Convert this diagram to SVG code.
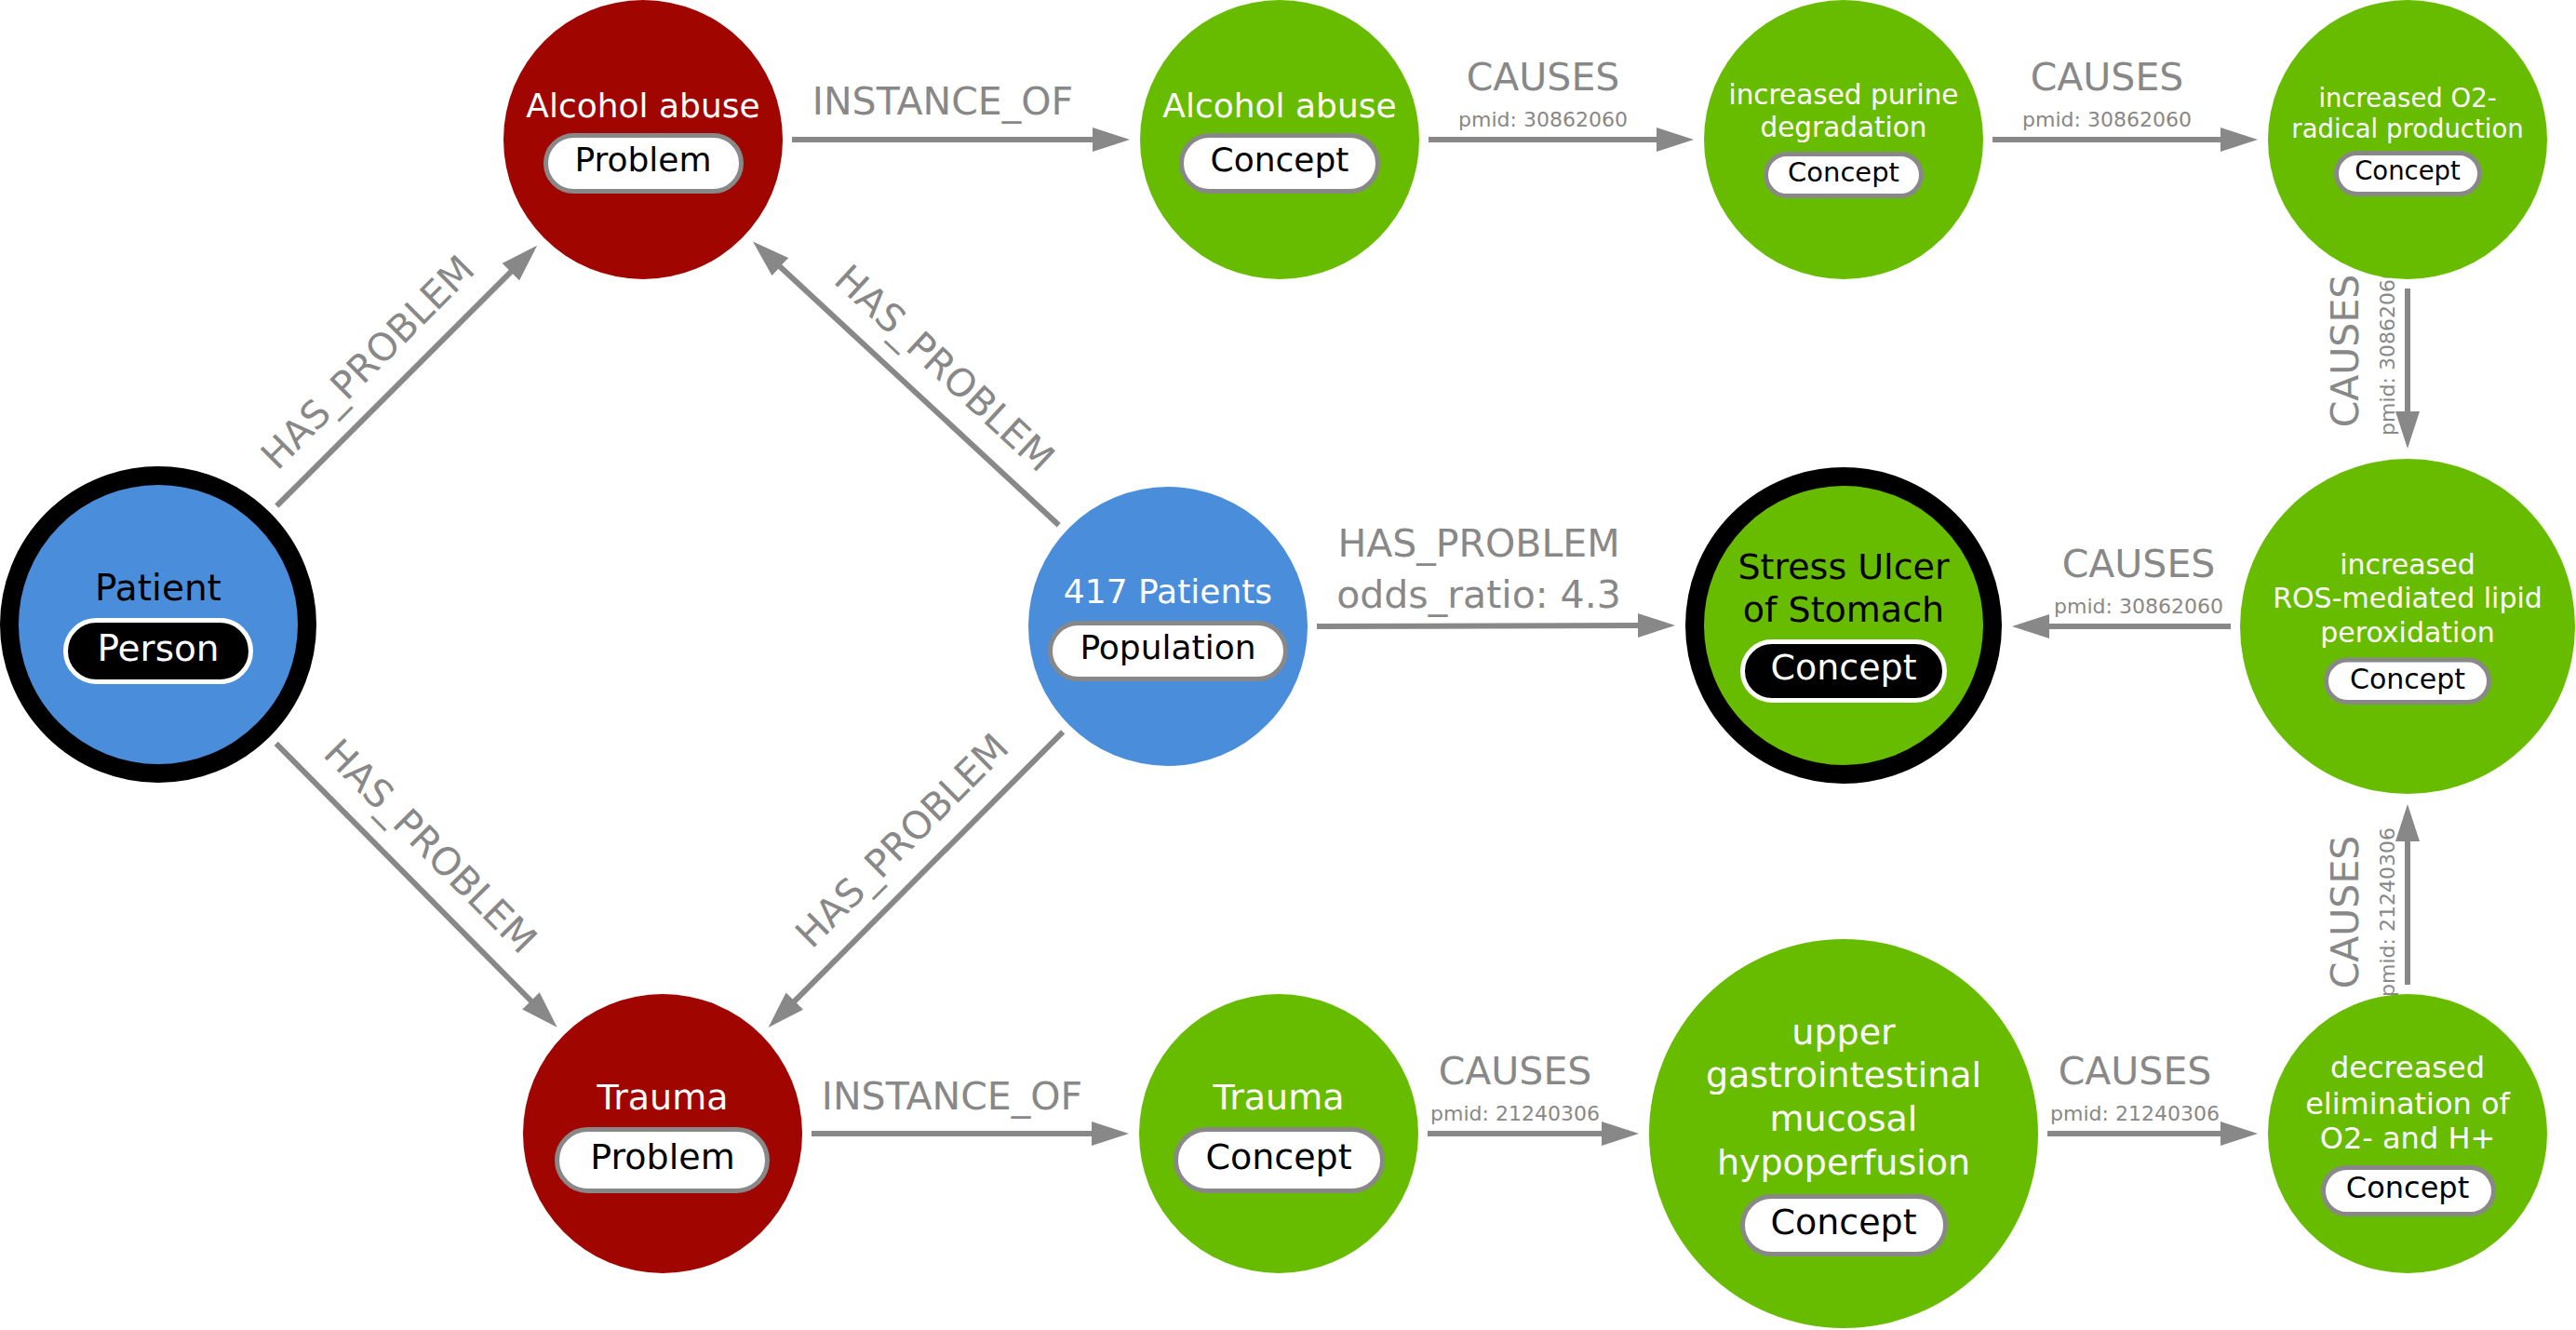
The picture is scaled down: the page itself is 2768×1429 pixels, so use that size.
<svg xmlns="http://www.w3.org/2000/svg" width="2768" height="1429" viewBox="0 0 2768 1429">
<style>
text{font-family:"DejaVu Sans","Liberation Sans",sans-serif;text-anchor:middle}
.edge{stroke:#888888;stroke-width:6;fill:none}
.lbl{fill:#888888;font-size:41px}
.pm{fill:#888888;font-size:22px}
.red{fill:#A00500}
.green{fill:#68BC00}
.blue{fill:#4A8DDB}
.ring{stroke:#000;stroke-width:20}
.pill{fill:#fff;stroke:#888888;stroke-width:5}
.pillk{fill:#000;stroke:#fff;stroke-width:5}
.tw{fill:#fff}
.tk{fill:#000}
</style>
<defs>
<marker id="arr" markerUnits="userSpaceOnUse" viewBox="0 0 40 26" refX="1" refY="13" markerWidth="40" markerHeight="26" orient="auto">
<path d="M0,0 L40,13 L0,26 Z" fill="#888888"/>
</marker>
</defs>
<g id="edges">
<!-- Patient -> Alcohol abuse (Problem) -->
<line class="edge" x1="297.3" y1="543.7" x2="549.6" y2="291.4" marker-end="url(#arr)"/>
<g transform="translate(423.5,417.6) rotate(-45)"><text class="lbl" y="-26">HAS_PROBLEM</text></g>
<!-- 417 Patients -> Alcohol abuse (Problem) -->
<line class="edge" x1="1137.7" y1="564.2" x2="837.6" y2="286.0" marker-end="url(#arr)"/>
<g transform="translate(987.7,425.1) rotate(42.84)"><text class="lbl" y="-26">HAS_PROBLEM</text></g>
<!-- Patient -> Trauma (Problem) -->
<line class="edge" x1="296.7" y1="798.9" x2="571.2" y2="1076.0" marker-end="url(#arr)"/>
<g transform="translate(434.0,937.5) rotate(45.26)"><text class="lbl" y="-26">HAS_PROBLEM</text></g>
<!-- 417 Patients -> Trauma (Problem) -->
<line class="edge" x1="1142.1" y1="786.3" x2="853.1" y2="1076.4" marker-end="url(#arr)"/>
<g transform="translate(997.6,931.4) rotate(-45.1)"><text class="lbl" y="-26">HAS_PROBLEM</text></g>
<!-- Alcohol abuse Problem -> Concept -->
<line class="edge" x1="851" y1="150" x2="1175" y2="150" marker-end="url(#arr)"/>
<text class="lbl" x="1013" y="123">INSTANCE_OF</text>
<!-- Alcohol abuse Concept -> purine -->
<line class="edge" x1="1535" y1="150" x2="1781" y2="150" marker-end="url(#arr)"/>
<text class="lbl" x="1658" y="97">CAUSES</text>
<text class="pm" x="1658" y="136">pmid: 30862060</text>
<!-- purine -> O2 radical -->
<line class="edge" x1="2141" y1="150" x2="2387" y2="150" marker-end="url(#arr)"/>
<text class="lbl" x="2264" y="97">CAUSES</text>
<text class="pm" x="2264" y="136">pmid: 30862060</text>
<!-- O2 radical -> ROS -->
<line class="edge" x1="2587" y1="310" x2="2587" y2="443" marker-end="url(#arr)"/>
<g transform="translate(2587,377) rotate(-90)"><text class="lbl" y="-53">CAUSES</text><text class="pm" y="-14">pmid: 30862060</text></g>
<!-- ROS -> Stress Ulcer -->
<line class="edge" x1="2397" y1="673" x2="2201" y2="673" marker-end="url(#arr)"/>
<text class="lbl" x="2298" y="620">CAUSES</text>
<text class="pm" x="2298" y="659">pmid: 30862060</text>
<!-- 417 Patients -> Stress Ulcer -->
<line class="edge" x1="1415" y1="673" x2="1761" y2="672" marker-end="url(#arr)"/>
<text class="lbl" x="1589" y="598">HAS_PROBLEM</text>
<text class="lbl" x="1589" y="653">odds_ratio: 4.3</text>
<!-- Trauma Problem -> Concept -->
<line class="edge" x1="872" y1="1218" x2="1174" y2="1218" marker-end="url(#arr)"/>
<text class="lbl" x="1023" y="1192">INSTANCE_OF</text>
<!-- Trauma Concept -> hypoperfusion -->
<line class="edge" x1="1534" y1="1218" x2="1722" y2="1218" marker-end="url(#arr)"/>
<text class="lbl" x="1628" y="1165">CAUSES</text>
<text class="pm" x="1628" y="1204">pmid: 21240306</text>
<!-- hypoperfusion -> decreased elimination -->
<line class="edge" x1="2200" y1="1218" x2="2387" y2="1218" marker-end="url(#arr)"/>
<text class="lbl" x="2294" y="1165">CAUSES</text>
<text class="pm" x="2294" y="1204">pmid: 21240306</text>
<!-- decreased elimination -> ROS -->
<line class="edge" x1="2587" y1="1058" x2="2587" y2="903" marker-end="url(#arr)"/>
<g transform="translate(2587,980) rotate(-90)"><text class="lbl" y="-53">CAUSES</text><text class="pm" y="-14">pmid: 21240306</text></g>
</g>

<g id="node-patient">
<circle class="blue ring" cx="170" cy="671" r="160"/>
<text class="tk" x="170" y="645" font-size="39">Patient</text>
<rect class="pillk" x="70.5" y="666.5" width="199" height="66" rx="33"/>
<text class="tw" x="170" y="710" font-size="39">Person</text>
</g>

<g id="node-alcohol-problem">
<circle class="red" cx="691" cy="150" r="150"/>
<text class="tw" x="691" y="126" font-size="36">Alcohol abuse</text>
<rect class="pill" x="586.5" y="145.5" width="210" height="60" rx="30"/>
<text class="tk" x="691" y="184" font-size="36">Problem</text>
</g>

<g id="node-alcohol-concept">
<circle class="green" cx="1375" cy="150" r="150"/>
<text class="tw" x="1375" y="126" font-size="36">Alcohol abuse</text>
<rect class="pill" x="1269.5" y="145.5" width="211" height="60" rx="30"/>
<text class="tk" x="1375" y="184" font-size="36">Concept</text>
</g>

<g id="node-purine">
<circle class="green" cx="1981" cy="150" r="150"/>
<text class="tw" x="1981" y="112" font-size="29.5">increased purine</text>
<text class="tw" x="1981" y="147" font-size="29.5">degradation</text>
<rect class="pill" x="1897.5" y="165.5" width="167" height="45" rx="22.5"/>
<text class="tk" x="1981" y="195" font-size="29">Concept</text>
</g>

<g id="node-o2-radical">
<circle class="green" cx="2587" cy="150" r="150"/>
<text class="tw" x="2587" y="115" font-size="27.5">increased O2-</text>
<text class="tw" x="2587" y="148" font-size="27.5">radical production</text>
<rect class="pill" x="2510.5" y="164.5" width="154" height="44" rx="22"/>
<text class="tk" x="2587" y="193" font-size="27.5">Concept</text>
</g>

<g id="node-population">
<circle class="blue" cx="1255" cy="673" r="150"/>
<text class="tw" x="1255" y="648" font-size="36">417 Patients</text>
<rect class="pill" x="1128.5" y="669.5" width="253" height="60" rx="30"/>
<text class="tk" x="1255" y="708" font-size="36">Population</text>
</g>

<g id="node-stress-ulcer">
<circle class="green ring" cx="1981" cy="672" r="160"/>
<text class="tk" x="1981" y="622" font-size="38">Stress Ulcer</text>
<text class="tk" x="1981" y="668" font-size="38">of Stomach</text>
<rect class="pillk" x="1872.5" y="689.5" width="217" height="63" rx="31.5"/>
<text class="tw" x="1981" y="730" font-size="38">Concept</text>
</g>

<g id="node-ros">
<circle class="green" cx="2587" cy="673" r="180"/>
<text class="tw" x="2587" y="617" font-size="30">increased</text>
<text class="tw" x="2587" y="653" font-size="30">ROS-mediated lipid</text>
<text class="tw" x="2587" y="690" font-size="30">peroxidation</text>
<rect class="pill" x="2499.5" y="709" width="175" height="45.5" rx="22.75"/>
<text class="tk" x="2587" y="740" font-size="30">Concept</text>
</g>

<g id="node-trauma-problem">
<circle class="red" cx="712" cy="1218" r="150"/>
<text class="tw" x="712" y="1192" font-size="38">Trauma</text>
<rect class="pill" x="598.5" y="1213.5" width="226" height="66" rx="33"/>
<text class="tk" x="712" y="1256" font-size="38">Problem</text>
</g>

<g id="node-trauma-concept">
<circle class="green" cx="1374" cy="1218" r="150"/>
<text class="tw" x="1374" y="1192" font-size="38">Trauma</text>
<rect class="pill" x="1263.5" y="1213.5" width="222" height="66" rx="33"/>
<text class="tk" x="1374" y="1256" font-size="38">Concept</text>
</g>

<g id="node-hypoperfusion">
<circle class="green" cx="1981" cy="1218" r="209"/>
<text class="tw" x="1981" y="1122" font-size="38">upper</text>
<text class="tw" x="1981" y="1168" font-size="38">gastrointestinal</text>
<text class="tw" x="1981" y="1215" font-size="38">mucosal</text>
<text class="tw" x="1981" y="1262" font-size="38">hypoperfusion</text>
<rect class="pill" x="1872.5" y="1285.5" width="218" height="62" rx="31"/>
<text class="tk" x="1981" y="1326" font-size="38">Concept</text>
</g>

<g id="node-decreased">
<circle class="green" cx="2587" cy="1218" r="150"/>
<text class="tw" x="2587" y="1158" font-size="32">decreased</text>
<text class="tw" x="2587" y="1197" font-size="32">elimination of</text>
<text class="tw" x="2587" y="1234" font-size="32">O2- and H+</text>
<rect class="pill" x="2496.5" y="1254.5" width="183" height="50" rx="25"/>
<text class="tk" x="2587" y="1287" font-size="32">Concept</text>
</g>
</svg>
